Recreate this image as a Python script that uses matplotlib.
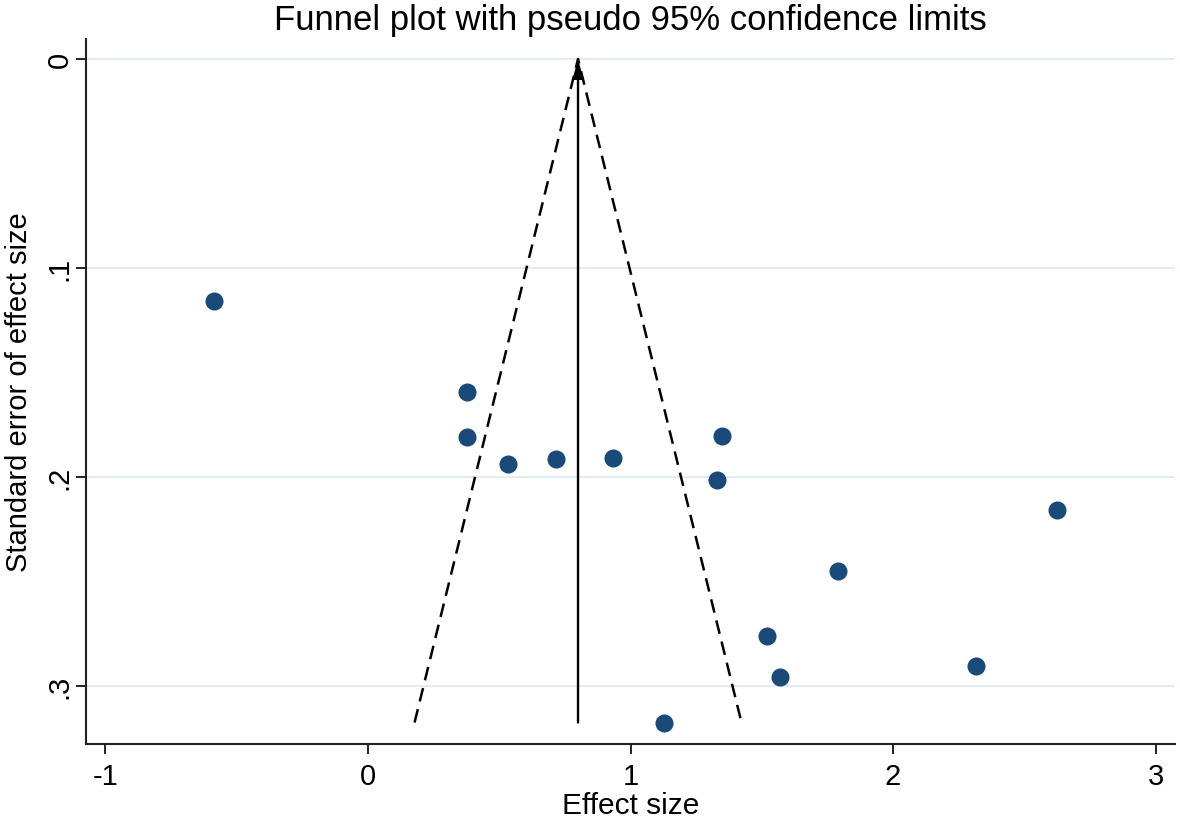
import matplotlib
matplotlib.use("Agg")
import matplotlib.pyplot as plt
import numpy as np

plt.rcParams['font.family'] = ['Liberation Sans', 'DejaVu Sans']

# Study data
effect_size = [-0.585, 0.379, 0.379, 0.535, 0.718, 0.935, 1.350, 1.328,
               2.623, 1.792, 1.518, 2.316, 1.568, 1.126]
std_error = [0.1158, 0.1593, 0.1809, 0.1938, 0.1914, 0.1909, 0.1804, 0.2014,
             0.2158, 0.2450, 0.2761, 0.2904, 0.2957, 0.3177]
pooled_effect = 0.8
x_ticks = [-1, 0, 1, 2, 3]
x_ticklabels = ['-1', '0', '1', '2', '3']
y_ticks = [0, 0.1, 0.2, 0.3]
y_ticklabels = ['0', '.1', '.2', '.3']

max_se = max(std_error)
z = 1.96

fig = plt.figure(figsize=(11.8, 8.28), dpi=100)
ax = fig.add_axes([0.0729, 0.1002, 0.9229, 0.8515])

ax.set_xlim(-1.074, 3.074)
ax.set_ylim(0.328, -0.0096)

for yt in y_ticks:
    ax.axhline(yt, color='#e2edf1', lw=1.4, zorder=0)

# pseudo 95% limits
ax.plot([pooled_effect - z * max_se, pooled_effect, pooled_effect + z * max_se],
        [max_se, 0, max_se], color='black', lw=1.8, dashes=(5.5, 3.2), zorder=2)
# vertical line with arrow at pooled estimate
ax.annotate('', xy=(pooled_effect, 0), xytext=(pooled_effect, max_se),
            arrowprops=dict(arrowstyle='-|>,head_length=1.1,head_width=0.3',
                            color='black', lw=1.7, shrinkA=0, shrinkB=0),
            zorder=3)

ax.plot(effect_size, std_error, 'o', color='#1a4a7a', markersize=13,
        markeredgewidth=0, zorder=4)

for s in ['top', 'right']:
    ax.spines[s].set_visible(False)
for s in ['left', 'bottom']:
    ax.spines[s].set_linewidth(1.5)
    ax.spines[s].set_color('#222222')

ax.set_xticks(x_ticks)
ax.set_xticklabels(x_ticklabels, fontsize=21)
ax.set_yticks(y_ticks)
ax.set_yticklabels(y_ticklabels, fontsize=21, rotation=90, va='center')
ax.tick_params(axis='x', length=7, width=1.4, color='#222222', pad=6)
ax.tick_params(axis='y', length=7, width=1.4, color='#222222', pad=2)

ax.set_xlabel('Effect size', fontsize=21.5, labelpad=1)
ax.set_ylabel('Standard error of effect size', fontsize=21, labelpad=9)
ax.set_title('Funnel plot with pseudo 95% confidence limits', fontsize=25, pad=7)

fig.savefig('out.png', dpi=100)
